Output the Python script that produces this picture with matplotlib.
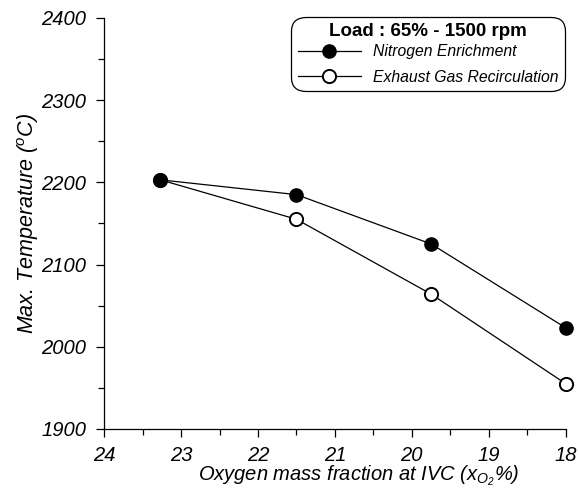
import matplotlib.pyplot as plt
from matplotlib.ticker import MultipleLocator

plt.rcParams['font.family'] = ['Liberation Sans', 'DejaVu Sans']
plt.rcParams['mathtext.fontset'] = 'custom'
plt.rcParams['mathtext.rm'] = 'Liberation Sans:italic'
plt.rcParams['mathtext.it'] = 'Liberation Sans:italic'

# data
oxygen = [23.27, 21.5, 19.75, 18.0]
temp_nitrogen = [2203, 2185, 2125, 2023]
temp_egr = [2203, 2155, 2064, 1955]

fig = plt.figure(figsize=(5.79, 4.97), dpi=100)
ax = fig.add_axes([0.18, 0.137, 0.797, 0.827])

# EGR first so the filled marker sits on top at the shared point
ax.plot(oxygen, temp_egr, '-o', color='black', lw=0.9, ms=9.5,
        mfc='white', mec='black', mew=1.4, label='Exhaust Gas Recirculation',
        clip_on=False, zorder=3)
ax.plot(oxygen, temp_nitrogen, '-o', color='black', lw=0.9, ms=9.5,
        mfc='black', mec='black', label='Nitrogen Enrichment',
        clip_on=False, zorder=4)

ax.set_xlim(24, 18)
ax.set_ylim(1900, 2400)
ax.xaxis.set_major_locator(MultipleLocator(1))
ax.xaxis.set_minor_locator(MultipleLocator(0.5))
ax.yaxis.set_major_locator(MultipleLocator(100))
ax.yaxis.set_minor_locator(MultipleLocator(50))

for s in ['top', 'right']:
    ax.spines[s].set_visible(False)
for s in ['left', 'bottom']:
    ax.spines[s].set_linewidth(0.9)

ax.tick_params(which='major', direction='out', length=6, width=0.9, labelsize=14.5, pad=7)
ax.tick_params(axis='x', which='major', pad=6)
ax.tick_params(which='minor', direction='out', length=4, width=0.9)
for lab in ax.get_xticklabels() + ax.get_yticklabels():
    lab.set_fontstyle('italic')

ax.set_xlabel('Oxygen mass fraction at IVC (x$_{O_2}$%)', fontsize=14.5, style='italic')
ax.xaxis.set_label_coords(0.552, -0.083, transform=ax.transAxes)
ax.set_ylabel('Max. Temperature ($^{o}$C)', fontsize=15.5, style='italic', labelpad=0)

handles, labels = ax.get_legend_handles_labels()
leg = ax.legend(handles[::-1], labels[::-1], loc='upper right', bbox_to_anchor=(1.005, 1.01),
                title='Load : 65% - 1500 rpm',
                title_fontproperties={'weight': 'bold', 'size': 13.5},
                prop={'style': 'italic', 'size': 11.3}, frameon=True, fancybox=True,
                edgecolor='black', framealpha=1, handlelength=4.0,
                borderpad=0.4, labelspacing=0.65, handletextpad=0.8, borderaxespad=0.2)
leg.get_frame().set_linewidth(0.9)
leg.get_frame().set_boxstyle('round', pad=0, rounding_size=0.9)
leg._legend_box.sep = 3

fig.savefig('out.png', dpi=100)
